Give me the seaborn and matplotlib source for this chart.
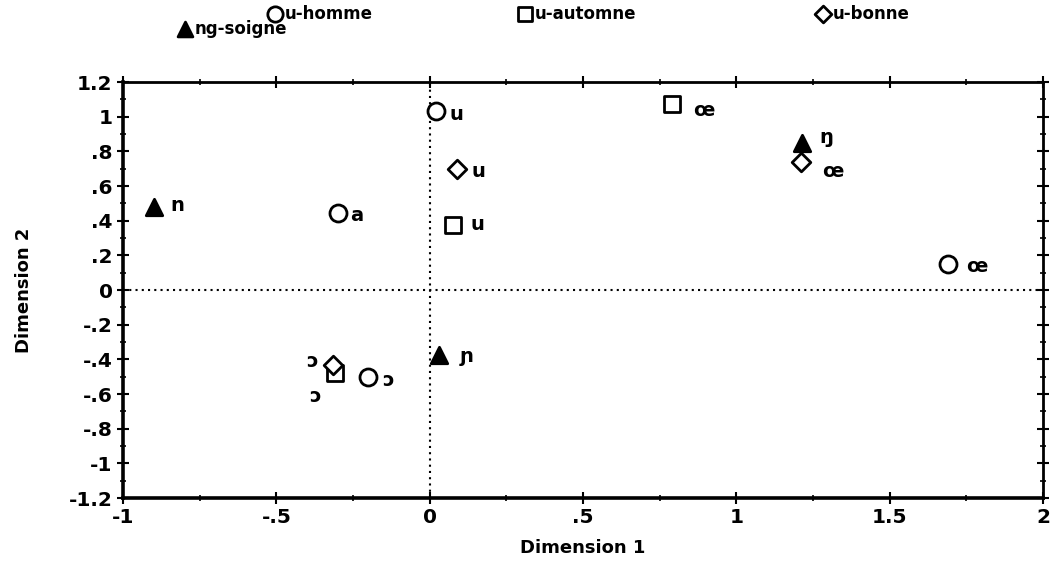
"""Scatter of vowel/consonant positions on two MDS dimensions."""
import matplotlib
matplotlib.use('Agg')
import matplotlib.pyplot as plt
from matplotlib.ticker import MultipleLocator, FuncFormatter
import seaborn as sns

# data
homme_x = [0.02, -0.30, 1.69, -0.20]
homme_y = [1.03, 0.445, 0.15, -0.50]
homme_lab = ['u', 'a', 'œ', 'ɔ']

automne_x = [0.79, 0.075, -0.31]
automne_y = [1.075, 0.375, -0.48]
automne_lab = ['œ', 'u', 'ɔ']

bonne_x = [0.09, 1.21, -0.315]
bonne_y = [0.70, 0.74, -0.43]
bonne_lab = ['u', 'œ', 'ɔ']

soigne_x = [-0.90, 1.215, 0.03]
soigne_y = [0.48, 0.85, -0.375]
soigne_lab = ['n', 'ŋ', 'ɲ']

x_ticks = [-1, -0.5, 0, 0.5, 1, 1.5, 2]

# label offsets in points (dx, dy), same order as the data
offsets = {
    'u-homme': [(15, -2), (14, -2), (21, -2), (14, -3)],
    'u-automne': [(23, -5), (18, 0), (-14, -17)],
    'u-bonne': [(15, -2), (23, -7), (-15, 2)],
    'ng-soigne': [(17, 1), (17, 4), (20, -1)],
}

# legend entry anchors in pixels (left, top)
legend_pos = [(258, -2), (508, -2), (806, -2), (168, 13)]

series = [
    ('u-homme', homme_x, homme_y, homme_lab, 'o', 'white', 150),
    ('u-automne', automne_x, automne_y, automne_lab, 's', 'white', 130),
    ('u-bonne', bonne_x, bonne_y, bonne_lab, 'D', 'white', 90),
    ('ng-soigne', soigne_x, soigne_y, soigne_lab, '^', 'black', 140),
]

sns.set_style('ticks')
plt.rcParams['font.family'] = ['DejaVu Sans']
plt.rcParams['font.weight'] = 'bold'
for key in ['text.color', 'axes.labelcolor', 'axes.edgecolor',
            'xtick.color', 'ytick.color']:
    plt.rcParams[key] = 'black'

W, H = 1053, 561
fig = plt.figure(figsize=(W / 100, H / 100), dpi=100)
ax = fig.add_axes([123 / W, 1 - 498 / H, 920 / W, 416 / H])

ax.axhline(0, color='black', linestyle=(0, (1, 2)), linewidth=1.5, zorder=1)
ax.axvline(0, color='black', linestyle=(0, (1, 2)), linewidth=1.5, zorder=1)

for name, xs, ys, labs, mk, fc, size in series:
    sns.scatterplot(x=xs, y=ys, marker=mk, s=size, facecolor=fc,
                    edgecolor='black', linewidth=2, label=name, ax=ax, zorder=3)
    for x, y, t, off in zip(xs, ys, labs, offsets[name]):
        ax.annotate(t, (x, y), xytext=off, textcoords='offset points',
                    fontsize=14, fontweight='bold', ha='center', va='center')

ax.set_xlim(-1, 2)
ax.set_ylim(-1.2, 1.2)
ax.set_xticks(x_ticks)
ax.yaxis.set_major_locator(MultipleLocator(0.2))
ax.xaxis.set_minor_locator(MultipleLocator(0.25))
ax.yaxis.set_minor_locator(MultipleLocator(0.1))


def fmt(v, pos):
    s = f'{v:.1f}'.rstrip('0').rstrip('.')
    if s in ('-0', ''):
        s = '0'
    return s.replace('0.', '.')


ax.xaxis.set_major_formatter(FuncFormatter(fmt))
ax.yaxis.set_major_formatter(FuncFormatter(fmt))
ax.tick_params(which='major', direction='inout', length=8, width=1.5,
               labelsize=14.5, top=True, right=True)
ax.tick_params(which='minor', direction='inout', length=5, width=1.2,
               top=True, right=True)
for side in ['left', 'bottom']:
    ax.spines[side].set_linewidth(2.6)
for side in ['top', 'right']:
    ax.spines[side].set_linewidth(2.0)

ax.set_xlabel('Dimension 1', fontsize=13, fontweight='bold', labelpad=8)
ax.set_ylabel('Dimension 2', fontsize=13, fontweight='bold', labelpad=26)

handles, labels = ax.get_legend_handles_labels()
ax.get_legend().remove()
for h, lab, (px, py) in zip(handles, labels, legend_pos):
    fig.legend([h], [lab], loc='upper left',
               bbox_to_anchor=(px / W, 1 - py / H), frameon=False,
               borderaxespad=0, handletextpad=0.0, handlelength=1.2,
               prop={'size': 12, 'weight': 'bold'}, markerscale=0.9)

fig.savefig('out.png', dpi=100)
